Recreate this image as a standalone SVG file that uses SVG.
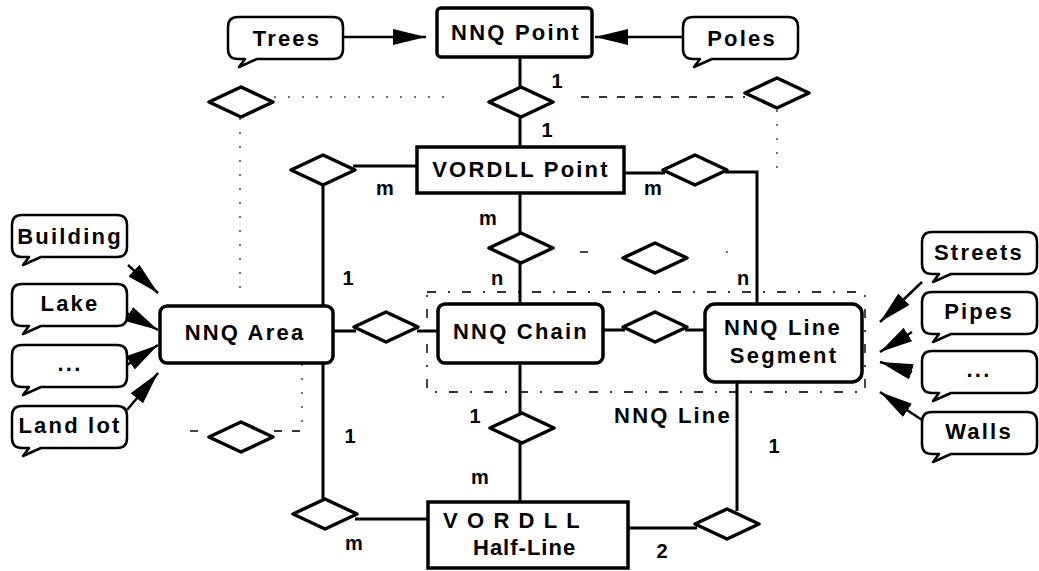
<svg xmlns="http://www.w3.org/2000/svg" xmlns:xlink="http://www.w3.org/1999/xlink" width="1039" height="571" viewBox="0 0 1039 571">
<style>
.box{fill:#fff;stroke:#000;stroke-width:3.5}
.t{font-family:"Liberation Sans",Arial,sans-serif;font-weight:bold;font-size:22px;letter-spacing:2.2px;text-anchor:middle;fill:#000}
.lbl{font-family:"Liberation Sans",Arial,sans-serif;font-weight:bold;font-size:20px;text-anchor:middle;fill:#000}
.dia{fill:#fff;stroke:#000;stroke-width:3.5;stroke-linejoin:round}
.ln{stroke:#000;stroke-width:3;fill:none}
.arr{stroke:#000;stroke-width:2.5;fill:none;marker-end:url(#ah)}
.dot{stroke:#444;stroke-width:1.5;fill:none;stroke-dasharray:2 12}
.dash{stroke:#333;stroke-width:1.8;fill:none;stroke-dasharray:8 10}
.dd{stroke:#333;stroke-width:1.8;fill:none;stroke-dasharray:9 12 2 12}
.co{fill:#fff;stroke:#000;stroke-width:2.5;stroke-linejoin:round}
</style>
<defs>
<marker id="ah" markerUnits="userSpaceOnUse" markerWidth="33" markerHeight="16" refX="33" refY="8" orient="auto">
<path d="M0,0 L33,8 L0,16 Z" fill="#000"/>
</marker>
<path id="callout" class="co" d="M10,0 H105 Q115,0 115,10 V32 Q115,42 105,42 H29 L11,50 L17,42 H10 Q0,42 0,32 V10 Q0,0 10,0 Z"/>
<polygon id="dm" class="dia" points="-32,0 0,-15 32,0 0,15"/>
</defs>

<g id="connectors">
<!-- faint relationship lines -->
<line class="dot" x1="274" y1="97" x2="450" y2="97"/>
<line class="dash" x1="581" y1="97" x2="745" y2="97"/>
<line class="dot" x1="240" y1="118" x2="240" y2="300"/>
<line class="dot" x1="777" y1="110" x2="777" y2="176"/>
<line class="dash" x1="580" y1="252" x2="592" y2="252"/>
<line class="dot" x1="726" y1="252" x2="728" y2="252"/>
<line class="dash" x1="190" y1="431" x2="207" y2="431"/>
<line class="dash" x1="274" y1="431" x2="302" y2="431"/>
<line class="dot" x1="302" y1="364" x2="302" y2="430"/>
<rect class="dd" x="427" y="292" width="438" height="100"/>

<!-- solid relationship lines -->
<line class="ln" x1="520" y1="57" x2="520" y2="88"/>
<line class="ln" x1="520" y1="116" x2="520" y2="147"/>
<line class="ln" x1="353" y1="166" x2="417" y2="166"/>
<line class="ln" x1="323" y1="184" x2="323" y2="305"/>
<polyline class="ln" points="624,173 665,173"/>
<polyline class="ln" points="725,172 757,172 757,303"/>
<line class="ln" x1="520" y1="193" x2="520" y2="234"/>
<line class="ln" x1="520" y1="262" x2="520" y2="303"/>
<line class="ln" x1="333" y1="331" x2="356" y2="331"/>
<line class="ln" x1="417" y1="331" x2="438" y2="331"/>
<line class="ln" x1="603" y1="330" x2="625" y2="330"/>
<line class="ln" x1="685" y1="330" x2="705" y2="330"/>
<line class="ln" x1="520" y1="363" x2="520" y2="414"/>
<line class="ln" x1="520" y1="442" x2="520" y2="502"/>
<line class="ln" x1="323" y1="363" x2="323" y2="500"/>
<line class="ln" x1="355" y1="519" x2="428" y2="519"/>
<line class="ln" x1="628" y1="528" x2="697" y2="528"/>
<line class="ln" x1="737" y1="382" x2="737" y2="511"/>

<!-- arrows -->
<line class="arr" x1="343" y1="37" x2="426" y2="37"/>
<line class="arr" x1="683" y1="37" x2="595" y2="37"/>
<line class="arr" x1="128" y1="265" x2="158" y2="293"/>
<line class="arr" x1="127" y1="313" x2="158" y2="330"/>
<line class="arr" x1="127" y1="365" x2="158" y2="345"/>
<line class="arr" x1="127" y1="410" x2="158" y2="373"/>
<line class="arr" x1="922" y1="282" x2="880" y2="322"/>
<line class="arr" x1="912" y1="332" x2="880" y2="352"/>
<line class="arr" x1="912" y1="372" x2="880" y2="362"/>
<line class="arr" x1="922" y1="420" x2="880" y2="392"/>

<!-- diamonds -->
<use xlink:href="#dm" href="#dm" x="521" y="102"/>
<use xlink:href="#dm" href="#dm" x="241" y="102"/>
<use xlink:href="#dm" href="#dm" x="777" y="93"/>
<use xlink:href="#dm" href="#dm" x="323" y="170"/>
<use xlink:href="#dm" href="#dm" x="695" y="170"/>
<use xlink:href="#dm" href="#dm" x="521" y="248"/>
<use xlink:href="#dm" href="#dm" x="655" y="258"/>
<use xlink:href="#dm" href="#dm" x="386" y="327"/>
<use xlink:href="#dm" href="#dm" x="655" y="327"/>
<use xlink:href="#dm" href="#dm" x="522" y="428"/>
<use xlink:href="#dm" href="#dm" x="241" y="437"/>
<use xlink:href="#dm" href="#dm" x="325" y="514"/>
<use xlink:href="#dm" href="#dm" x="727" y="524"/>

<!-- cardinality labels -->
<text class="lbl" x="557" y="88">1</text>
<text class="lbl" x="547" y="137">1</text>
<text class="lbl" x="385" y="195">m</text>
<text class="lbl" x="653" y="195">m</text>
<text class="lbl" x="488" y="225">m</text>
<text class="lbl" x="497" y="285">n</text>
<text class="lbl" x="348" y="285">1</text>
<text class="lbl" x="743" y="285">n</text>
<text class="lbl" x="475" y="423">1</text>
<text class="lbl" x="350" y="443">1</text>
<text class="lbl" x="480" y="484">m</text>
<text class="lbl" x="354" y="550">m</text>
<text class="lbl" x="662" y="558">2</text>
<text class="lbl" x="774" y="453">1</text>
<text class="t" x="673" y="423">NNQ Line</text>
</g>

<g id="nnq-point">
<rect class="box" x="437" y="8" width="155" height="49" rx="4"/>
<text class="t" x="516" y="40">NNQ Point</text>
</g>
<g id="vordll-point">
<rect class="box" x="417" y="147" width="207" height="46"/>
<text class="t" x="521" y="177">VORDLL Point</text>
</g>
<g id="nnq-area">
<rect class="box" x="160" y="306" width="173" height="57" rx="7" stroke-width="4"/>
<text class="t" x="245" y="340">NNQ Area</text>
</g>
<g id="nnq-chain">
<rect class="box" x="438" y="304" width="165" height="59" rx="7" stroke-width="4"/>
<text class="t" x="521" y="339">NNQ Chain</text>
</g>
<g id="nnq-line-segment">
<rect class="box" x="705" y="304" width="157" height="78" rx="10" stroke-width="4"/>
<text class="t" x="783" y="335">NNQ Line</text>
<text class="t" x="784" y="363">Segment</text>
</g>
<g id="vordll-half-line">
<rect class="box" x="428" y="502" width="200" height="66" stroke-width="5"/>
<text class="t" x="443" y="528" style="text-anchor:start;letter-spacing:1.6px">V O R D L L</text>
<text class="t" x="473" y="555" style="text-anchor:start;letter-spacing:1px">Half-Line</text>
</g>

<g id="trees"><use xlink:href="#callout" href="#callout" x="228" y="17"/><text class="t" x="287" y="46">Trees</text></g>
<g id="poles"><use xlink:href="#callout" href="#callout" x="683" y="17"/><text class="t" x="742" y="46">Poles</text></g>
<g id="building"><use xlink:href="#callout" href="#callout" x="12" y="215"/><text class="t" x="70" y="244">Building</text></g>
<g id="lake"><use xlink:href="#callout" href="#callout" x="12" y="284"/><text class="t" x="70" y="311">Lake</text></g>
<g id="area-more"><use xlink:href="#callout" href="#callout" x="12" y="345"/><text class="t" x="70" y="371">...</text></g>
<g id="land-lot"><use xlink:href="#callout" href="#callout" x="12" y="406"/><text class="t" x="70" y="433">Land lot</text></g>
<g id="streets"><use xlink:href="#callout" href="#callout" x="922" y="232"/><text class="t" x="979" y="260">Streets</text></g>
<g id="pipes"><use xlink:href="#callout" href="#callout" x="922" y="292"/><text class="t" x="979" y="319">Pipes</text></g>
<g id="line-more"><use xlink:href="#callout" href="#callout" x="922" y="351"/><text class="t" x="979" y="377">...</text></g>
<g id="walls"><use xlink:href="#callout" href="#callout" x="922" y="412"/><text class="t" x="979" y="439">Walls</text></g>
</svg>
